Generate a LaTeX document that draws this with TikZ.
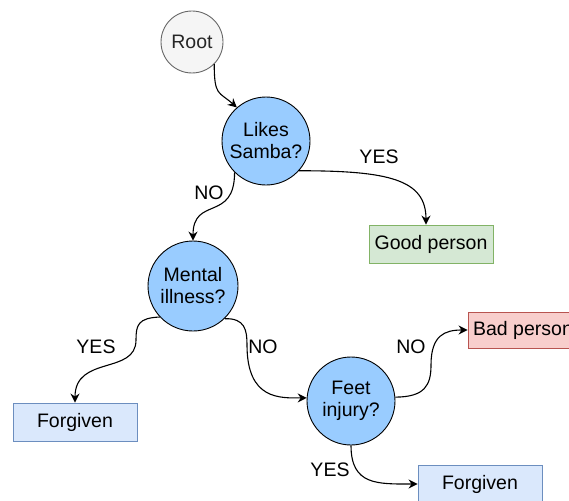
\documentclass[tikz,border=0pt]{standalone}
\usepackage{fontspec}
\setmainfont{Liberation Sans}
\usetikzlibrary{arrows.meta}
\definecolor{askfill}{HTML}{99CCFF}
\definecolor{rootfill}{HTML}{F5F5F5}
\definecolor{rootline}{HTML}{666666}
\definecolor{goodfill}{HTML}{D5E8D4}
\definecolor{goodline}{HTML}{82B366}
\definecolor{badfill}{HTML}{F8CECC}
\definecolor{badline}{HTML}{B85450}
\definecolor{forgfill}{HTML}{DAE8FC}
\definecolor{forgline}{HTML}{6C8EBF}
\tikzset{
  txt/.style={font=\fontsize{19.5}{22}\selectfont, align=center},
  rootnode/.style={txt, circle, draw=rootline, fill=rootfill, line width=0.9pt,
    minimum size=62pt, inner sep=0pt, text=black!85},
  question/.style={txt, circle, draw=black, fill=askfill, line width=0.9pt,
    minimum size=88pt, inner sep=0pt},
  answer/.style={txt, rectangle, line width=0.9pt, minimum width=124pt,
    minimum height=38pt, inner sep=0pt},
  edge/.style={line width=1.1pt, -{Stealth[length=9pt,width=9pt,inset=3pt]}},
  lbl/.style={txt}
}
\begin{document}
\begin{tikzpicture}[x=1pt,y=-1pt]
\useasboundingbox (0,0) rectangle (569,500);
\clip (0,0) rectangle (569,500);

% decision nodes
\node[rootnode] (root) at (192,42) {Root};
\node[question] (likes) at (266,141) {Likes\\Samba?};
\node[question, minimum size=90pt] (mental) at (193,286) {Mental\\illness?};
\node[question] (feet) at (351,401) {Feet\\injury?};

% outcomes
\node[answer, draw=goodline, fill=goodfill] (good) at (431,244) {Good person};
\node[answer, draw=badline, fill=badfill, minimum width=110pt, minimum height=36pt] (bad) at (523,330) {Bad person};
\node[answer, draw=forgline, fill=forgfill] (forgA) at (75,422) {Forgiven};
\node[answer, draw=forgline, fill=forgfill] (forgB) at (480,484) {Forgiven};

% connectors
\draw[edge] (root.-45) .. controls +(0,32) and +(-18,-16) .. (likes.131);
\draw[edge] (likes.-135) .. controls +(0,50) and +(0,-45) .. (mental.90);
\draw[edge] (likes.-42) .. controls +(90,0) and +(0,-45) .. ([xshift=-5pt]good.north);
\draw[edge] (mental.-137) .. controls (138,318) and (136,325) .. (136,340)
            .. controls (136,375) and (75,355) .. (forgA.north);
\draw[edge] (mental.-46) .. controls (245,318) and (247,330) .. (247,345)
            .. controls (247,400) and (280,398) .. (feet.176);
\draw[edge] (feet.5) .. controls (425,397) and (431,385) .. (431,365)
            .. controls (431,335) and (445,330) .. (bad.west);
\draw[edge] (feet.-90) .. controls +(0,40) and +(-40,0) .. (forgB.west);

% branch labels
\node[lbl] (l1) at (209,193) {NO};
\node[lbl] (l2) at (379,157) {YES};
\node[lbl] (l3) at (96,347) {YES};
\node[lbl] (l4) at (263,347) {NO};
\node[lbl] (l5) at (411,347) {NO};
\node[lbl] (l6) at (330,470) {YES};
\end{tikzpicture}
\end{document}
